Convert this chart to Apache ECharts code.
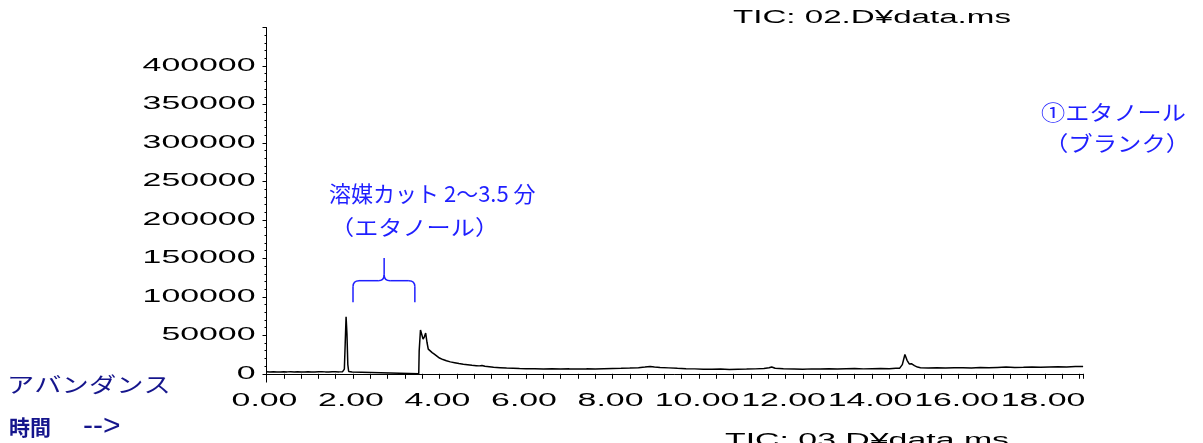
<!DOCTYPE html>
<html><head><meta charset="utf-8">
<script src="https://cdn.jsdelivr.net/npm/echarts@6/dist/echarts.min.js"></script>
<style>html,body{margin:0;padding:0;background:#fff}#c{width:1203px;height:443px}</style>
</head><body><div id="c"></div>
<script>
// ---- data (retention time in minutes, TIC abundance) ----
const timeMin = [
  0.00,0.08,0.16,0.24,0.32,0.40,0.48,0.56,0.64,0.72,0.80,0.88,0.96,1.04,1.12,1.20,1.28,1.36,1.44,1.52,1.60,1.68,1.76,
  1.80,1.82,1.84,1.86,1.88,1.90,1.94,1.98,2.01,2.02,3.52,
  3.53,3.56,3.59,3.62,3.65,3.68,3.71,3.74,3.78,3.83,3.88,3.94,4.00,4.08,4.16,4.25,4.35,4.45,4.55,4.65,4.75,4.85,4.92,4.95,4.98,
  5.05,5.15,5.25,5.40,5.55,5.70,5.85,6.00,6.20,6.40,6.60,6.80,7.00,7.20,7.40,7.60,7.80,8.00,8.20,8.40,8.60,8.75,8.87,8.97,9.10,9.30,9.50,9.70,9.90,
  10.10,10.30,10.50,10.70,10.90,11.10,11.30,11.50,11.62,11.68,11.76,11.95,12.20,12.40,12.60,12.80,13.00,13.20,13.40,13.60,13.80,14.00,14.20,14.40,14.55,
  14.64,14.70,14.76,14.81,14.86,14.91,14.98,15.05,15.12,15.30,15.50,15.70,15.90,16.10,16.30,16.50,16.70,16.90,17.10,17.30,17.50,17.70,17.90,18.10,18.30,18.50,18.70,18.88
];
const abundance = [
  2600,2400,2700,2500,2300,2600,2500,2800,2400,2600,2500,2300,2700,2500,2400,2600,2800,2500,2400,2700,2600,2500,2800,
  6000,40000,74000,52000,12000,3000,2200,2400,2300,0,0,
  30000,57000,51000,45000,48000,53000,41000,32000,29500,27500,25500,23000,20500,18500,17000,15500,14400,13300,12400,11700,11000,10600,10300,12600,10900,
  9700,9100,8400,7900,7400,7100,6800,6600,6700,6300,6500,6200,6400,6100,6400,6200,6600,6900,7100,7400,8000,8700,9600,8900,8200,7700,7100,6700,6400,
  6000,5800,6100,5700,5900,6100,6400,6800,7800,8900,7200,6500,6300,6000,6400,6100,6500,6200,6600,6800,6400,6700,6900,6700,7100,
  7300,12000,25000,17500,12800,13200,10600,8700,7900,7500,7800,7400,7800,8000,7600,8100,7900,8300,8700,8200,8500,8900,8400,8800,9100,8800,9400,9600
];
const yTickValues = [0,50000,100000,150000,200000,250000,300000,350000,400000];
const yTickLabels = ['0','50000','100000','150000','200000','250000','300000','350000','400000'];
const xTickValues = [0,2,4,6,8,10,12,14,16,18];
const xTickLabels = ['0.00','2.00','4.00','6.00','8.00','10.00','12.00','14.00','16.00','18.00'];
const titleTop = 'TIC: 02.D¥data.ms';
const titleBottom = 'TIC: 03.D¥data.ms';
const yAxisTitle = 'アバンダンス';
const xAxisTitle = ['時間', '-->'];
const noteCut = ['溶媒カット 2〜3.5 分', '（エタノール）'];
const noteSample = ['①エタノール', '（ブランク）'];
const braceTimes = [2.0, 2.72, 3.43];          // left arm, tip, right arm (min)
const braceLevels = [93000, 121000, 150500];   // arm bottom, bar, tip (abundance)

const BLUE = '#1f1fff', NAVY = '#15158c';
const chart = echarts.init(document.getElementById('c'), null, {renderer: 'canvas'});
chart.setOption({
  animation: false,
  backgroundColor: '#fff',
  grid: {left: 266.5, top: 27.5, width: 816.6, height: 346.3},
  xAxis: {
    type: 'value', min: 0, max: 18.88, interval: 0.4, offset: 8.2,
    axisLine: {show: true, lineStyle: {color: '#000', width: 1}},
    axisTick: {show: true, length: 5, lineStyle: {color: '#000', width: 1}},
    axisLabel: {show: false}, splitLine: {show: false}
  },
  yAxis: {
    type: 'value', min: 0, max: 450000, interval: 50000,
    axisLine: {show: true, lineStyle: {color: '#000', width: 1}},
    axisTick: {show: true, length: 4, lineStyle: {color: '#000', width: 1}},
    minorTick: {show: true, splitNumber: 5, length: 2, lineStyle: {color: '#000', width: 1}},
    axisLabel: {show: false}, splitLine: {show: false}, minorSplitLine: {show: false}
  },
  series: [{
    type: 'line', data: timeMin.map((t, i) => [t, abundance[i]]),
    symbol: 'none', showSymbol: false, clip: false,
    lineStyle: {color: '#000', width: 1.5}
  }]
});

function px(t, v) { return chart.convertToPixel({gridIndex: 0}, [t, v]); }
const LAT = '18px "Liberation Sans", Arial, sans-serif';
const JP = '"Noto Sans CJK JP", sans-serif';
const SX = 1.88;
const g = [];
function txt(x, y, text, font, fill, align, sx, extra) {
  const e = {type: 'text', x: x, y: y, silent: true,
    style: Object.assign({text: text, font: font, fill: fill, align: align, textAlign: align, verticalAlign: 'middle', textVerticalAlign: 'middle'}, extra || {})};
  if (sx) e.scaleX = sx;
  g.push(e);
}
// y tick labels
yTickValues.forEach((v, i) => { txt(255.5, px(0, v)[1], yTickLabels[i], LAT, '#000', 'right', SX); });
// x tick labels
xTickValues.forEach((t, i) => { txt(px(t, 0)[0] - 2, 401, xTickLabels[i], LAT, '#000', 'center', SX); });
// y axis extension down to the offset x axis
const p0 = px(0, 0);
g.push({type: 'line', silent: true, shape: {x1: 266.5, y1: p0[1], x2: 266.5, y2: 382.5}, style: {stroke: '#000', lineWidth: 1}});
// titles
txt(733, 18, titleTop, LAT, '#000', 'left', 1.84);
txt(725, 441.5, titleBottom, LAT, '#000', 'left', 1.88);
// axis titles
txt(7, 384, yAxisTitle, '21px ' + JP, NAVY, 'left', 1.3);
txt(9, 427, '{a|' + xAxisTitle[0] + '}{b|' + xAxisTitle[1] + '}', 'bold 21px ' + JP, NAVY, 'left', 0, {
  rich: {a: {fontSize: 21, fontWeight: 'bold', fontFamily: '"Noto Sans CJK JP"', fill: NAVY},
         b: {fontSize: 30, fontFamily: '"Liberation Sans"', fill: NAVY, padding: [0, 0, 0, 32]}}});
// annotations
txt(329, 194, noteCut[0], '22px ' + JP, BLUE, 'left', 0);
txt(330, 227, noteCut[1], '21px ' + JP, BLUE, 'left', 1.15);
txt(1041, 112, noteSample[0], '21px ' + JP, BLUE, 'left', 1.15);
txt(1044, 143, noteSample[1], '21px ' + JP, BLUE, 'left', 1.16);
// curly brace over the solvent-cut window
const bl = px(braceTimes[0], braceLevels[0]), bm = px(braceTimes[1], braceLevels[1]), br = px(braceTimes[2], braceLevels[0]);
const bt = px(braceTimes[1], braceLevels[2]);
const ya = bm[1], r = 6;
const bs = {stroke: BLUE, lineWidth: 1.5, fill: null};
g.push({type: 'line', silent: true, shape: {x1: bl[0], y1: bl[1], x2: bl[0], y2: ya + r}, style: bs});
g.push({type: 'bezierCurve', silent: true, shape: {x1: bl[0], y1: ya + r, cpx1: bl[0], cpy1: ya, x2: bl[0] + r, y2: ya}, style: bs});
g.push({type: 'line', silent: true, shape: {x1: bl[0] + r, y1: ya, x2: bm[0] - r, y2: ya}, style: bs});
g.push({type: 'bezierCurve', silent: true, shape: {x1: bm[0] - r, y1: ya, cpx1: bm[0], cpy1: ya, x2: bm[0], y2: ya - r}, style: bs});
g.push({type: 'bezierCurve', silent: true, shape: {x1: bm[0] + r, y1: ya, cpx1: bm[0], cpy1: ya, x2: bm[0], y2: ya - r}, style: bs});
g.push({type: 'line', silent: true, shape: {x1: bm[0], y1: ya - r, x2: bt[0], y2: bt[1]}, style: bs});
g.push({type: 'line', silent: true, shape: {x1: bm[0] + r, y1: ya, x2: br[0] - r, y2: ya}, style: bs});
g.push({type: 'bezierCurve', silent: true, shape: {x1: br[0] - r, y1: ya, cpx1: br[0], cpy1: ya, x2: br[0], y2: ya + r}, style: bs});
g.push({type: 'line', silent: true, shape: {x1: br[0], y1: ya + r, x2: br[0], y2: br[1]}, style: bs});

chart.setOption({graphic: g});
</script>
</body></html>
